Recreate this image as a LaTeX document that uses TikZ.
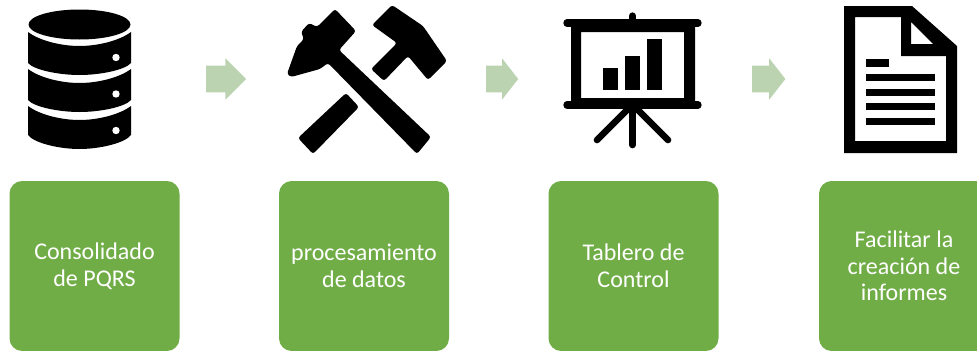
\documentclass[tikz,border=0pt]{standalone}
\usepackage{fontspec}
\setmainfont{Carlito}
\usetikzlibrary{shapes.arrows}
\definecolor{boxgreen}{HTML}{70AD47}
\definecolor{arrowgreen}{HTML}{BBD3B0}
\tikzset{
  stepbox/.style={rectangle,rounded corners=9.5pt,fill=boxgreen,text=white,minimum width=127.5pt,
    minimum height=127.5pt,inner sep=0pt,align=center,font=\fontsize{18}{20}\selectfont},
  steparrow/.style={single arrow,fill=arrowgreen,inner sep=0pt,text height=19.5pt,text depth=0pt,
    minimum height=30pt,minimum width=31pt,single arrow head extend=5.5pt,single arrow tip angle=90},
  icon/.style={fill=black,draw=none},
  iconline/.style={draw=black,line cap=round}
}
\begin{document}
\begin{tikzpicture}[x=.75pt,y=-.75pt,>=latex]
\useasboundingbox (0,0) rectangle (977,350);

\node[stepbox](consolidado) at (94.5,266) {Consolidado\\de PQRS};
\node[stepbox](procesamiento) at (364,266) {procesamiento\\de datos};
\node[stepbox](tablero) at (633.5,266) {Tablero de\\Control};
\node[stepbox](informes) at (904,266) {Facilitar la\\creación de\\informes};

\node[steparrow](flecha1) at (219.5,79) {};
\node[steparrow,minimum height=24pt,single arrow tip angle=104](flecha2) at (497,79) {};
\node[steparrow,minimum height=25pt,single arrow tip angle=104](flecha3) at (763.5,79) {};

% base de datos
\fill[icon] (79.5,24.5) ellipse [x radius=51,y radius=15];
\fill[icon] (28,32) .. controls (40,41) and (62,46) .. (79.5,46) .. controls (97,46) and (119,41) .. (131,32)
  -- (131,63) .. controls (125,70) and (100,75) .. (79.5,75) .. controls (59,75) and (34,70) .. (28,63) -- cycle;
\fill[icon] (28,69) .. controls (40,78) and (62,83) .. (79.5,83) .. controls (97,83) and (119,78) .. (131,69)
  -- (131,100) .. controls (125,107) and (100,112) .. (79.5,112) .. controls (59,112) and (34,107) .. (28,100) -- cycle;
\fill[icon] (28,106) .. controls (40,115) and (62,120) .. (79.5,120) .. controls (97,120) and (119,115) .. (131,106)
  -- (131,135) .. controls (125,143) and (100,149) .. (79.5,149) .. controls (59,149) and (34,143) .. (28,135) -- cycle;
\foreach \y in {57.5,94,130.5}
  \fill[white] (116,\y) circle [radius=3.7];

% martillos
\fill[icon,rounded corners=2pt] (335,9) -- (356,31) -- (339,50) -- (431,137) -- (417,154) -- (328,63) -- (320,69)
  -- (291,77) -- (287,74) -- (297,46) -- (304,39) -- (301,32) -- (309,23) -- (317,27) -- cycle;
\fill[icon,rounded corners=2pt] (392,5) -- (423,26) -- (447,61) -- (428,80) -- (408,56) -- (384,81) -- (371,69)
  -- (397,43) -- (372,25) -- cycle;
\fill[icon,rounded corners=2pt] (346,93) -- (359,107) -- (313,154) -- (298,138) -- cycle;

% tablero
\fill[icon,even odd rule] (571,23) rectangle (695,105) (581,32) rectangle (684,98);
\draw[iconline,line width=5.5pt] (567,23) -- (698,23);
\draw[iconline,line width=5.5pt] (632.5,16) -- (632.5,23);
\draw[iconline,line width=5.5pt] (567,105) -- (698,105);
\draw[iconline,line width=5pt] (632.5,108) -- (632.5,145);
\draw[iconline,line width=5pt] (627,110) -- (597,140);
\draw[iconline,line width=5pt] (638,110) -- (668,140);
\fill[icon] (603,68) rectangle (618,90);
\fill[icon] (625,56) rectangle (640,90);
\fill[icon] (647,39) rectangle (662,90);

% informe
\fill[icon,even odd rule] (844,6) -- (912,6) -- (957,46) -- (957,153) -- (844,153) -- cycle
  (855,17) -- (901,17) -- (901,56) -- (946,56) -- (946,141) -- (855,141) -- cycle
  (911,22) -- (933,44) -- (911,44) -- cycle;
\fill[icon] (866,59) rectangle (889,67);
\foreach \y in {74,88.5,103,117.5}
  \fill[icon] (866,\y) rectangle (935,\y+7);
\end{tikzpicture}
\end{document}
